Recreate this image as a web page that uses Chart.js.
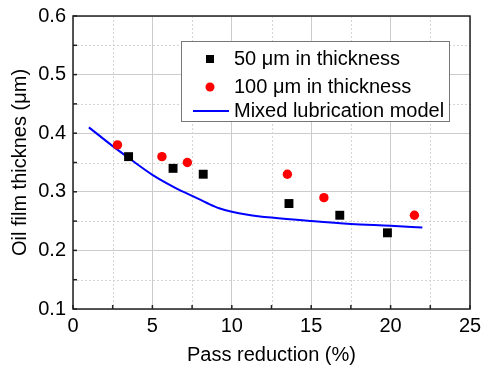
<!DOCTYPE html>
<html>
<head>
<meta charset="utf-8">
<script src="https://cdn.jsdelivr.net/npm/chart.js@4"></script>
<style>
  html, body { margin: 0; padding: 0; background: #fff; }
  #wrap { width: 482px; height: 367px; }
</style>
</head>
<body>
<div id="wrap"><canvas id="chart" width="482" height="367"></canvas></div>
<script>
// measured data
const x50 = [3.5, 6.3, 8.2, 13.6, 16.8, 19.8]
const y50 = [0.36, 0.34, 0.33, 0.28, 0.26, 0.23]
const x100 = [2.8, 5.6, 7.2, 13.5, 15.8, 21.5]
const y100 = [0.38, 0.36, 0.35, 0.33, 0.29, 0.26]
const xModel = [1, 2.5, 3.5, 5, 6.5, 7.5, 8.5, 9.2, 10, 11, 12.5, 15, 17.5, 20, 22]
const yModel = [0.410, 0.378, 0.358, 0.329, 0.306, 0.293, 0.280, 0.272, 0.266, 0.261, 0.256, 0.250, 0.245, 0.242, 0.239]

const seriesNames = ["50 \u03bcm in thickness", "100 \u03bcm in thickness", "Mixed lubrication model"]
const xTicks = [0, 5, 10, 15, 20, 25]
const yTicks = [0.1, 0.2, 0.3, 0.4, 0.5, 0.6]
const xMinor = [2.5, 7.5, 12.5, 17.5, 22.5]
const yMinor = [0.15, 0.25, 0.35, 0.45, 0.55]

const FONT = "'Liberation Sans', Arial, sans-serif"

function pts(xs, ys) { return xs.map((x, i) => ({ x: x, y: ys[i] })) }

// minor dotted grid + inside ticks + frame + legend box
const framePlugin = {
  id: "frame",
  beforeDatasetsDraw(chart) {
    const ctx = chart.ctx, a = chart.chartArea
    const xs = chart.scales.x, ys = chart.scales.y
    ctx.save()
    ctx.strokeStyle = "#d4d4d4"
    ctx.lineWidth = 1
    ctx.setLineDash([2, 2])
    xMinor.forEach(v => {
      const px = Math.round(xs.getPixelForValue(v)) + 0.5
      ctx.beginPath(); ctx.moveTo(px, a.top); ctx.lineTo(px, a.bottom); ctx.stroke()
    })
    yMinor.forEach(v => {
      const py = Math.round(ys.getPixelForValue(v)) + 0.5
      ctx.beginPath(); ctx.moveTo(a.left, py); ctx.lineTo(a.right, py); ctx.stroke()
    })
    ctx.restore()
  },
  afterDatasetsDraw(chart) {
    const ctx = chart.ctx, a = chart.chartArea
    const xs = chart.scales.x, ys = chart.scales.y
    ctx.save()
    ctx.strokeStyle = "#222"
    ctx.lineWidth = 1.5
    xTicks.concat(xMinor).forEach(v => {
      const px = xs.getPixelForValue(v)
      ctx.beginPath(); ctx.moveTo(px, a.bottom); ctx.lineTo(px, a.bottom - 4); ctx.stroke()
    })
    yTicks.concat(yMinor).forEach(v => {
      const py = ys.getPixelForValue(v)
      ctx.beginPath(); ctx.moveTo(a.left, py); ctx.lineTo(a.left + 4, py); ctx.stroke()
    })
    ctx.strokeRect(a.left, a.top, a.right - a.left, a.bottom - a.top)
    ctx.restore()
  },
  afterDraw(chart) {
    const ctx = chart.ctx
    const bx = 181, by = 41, bw = 268, bh = 80
    ctx.save()
    ctx.fillStyle = "#fff"
    ctx.fillRect(bx, by, bw, bh)
    ctx.strokeStyle = "#777"
    ctx.lineWidth = 1
    ctx.strokeRect(bx + 0.5, by + 0.5, bw, bh)
    const rows = [59, 87, 111]
    ctx.fillStyle = "#000"
    ctx.fillRect(206, rows[0] - 4, 8, 8)
    ctx.fillStyle = "#ff0000"
    ctx.beginPath(); ctx.arc(210, rows[1], 4.5, 0, Math.PI * 2); ctx.fill()
    ctx.strokeStyle = "#0000ff"
    ctx.lineWidth = 2
    ctx.beginPath(); ctx.moveTo(193, rows[2]); ctx.lineTo(229, rows[2]); ctx.stroke()
    ctx.fillStyle = "#000"
    ctx.font = "20px " + FONT
    ctx.textBaseline = "middle"
    seriesNames.forEach((n, i) => ctx.fillText(n, 234, rows[i]))
    ctx.restore()
  }
}

new Chart(document.getElementById("chart"), {
  type: "scatter",
  data: {
    datasets: [
      { label: seriesNames[0], data: pts(x50, y50), pointStyle: "rect", pointRadius: 6.3, backgroundColor: "#000", borderColor: "#000", borderWidth: 0 },
      { label: seriesNames[1], data: pts(x100, y100), pointStyle: "circle", pointRadius: 4.7, backgroundColor: "#ff0000", borderColor: "#ff0000", borderWidth: 0 },
      { label: seriesNames[2], data: pts(xModel, yModel), showLine: true, cubicInterpolationMode: "monotone", pointRadius: 0, borderColor: "#0000ff", borderWidth: 2, fill: false }
    ]
  },
  options: {
    responsive: false,
    animation: false,
    layout: { padding: { left: 8, right: 12, top: 16, bottom: 0 } },
    plugins: { legend: { display: false }, tooltip: { enabled: false } },
    scales: {
      x: {
        type: "linear", min: 0, max: 25,
        afterBuildTicks: s => { s.ticks = xTicks.map(v => ({ value: v })) },
        afterFit: s => { s.height = 58; s.paddingLeft = 0; s.paddingRight = 0 },
        grid: { color: "#cccccc", drawTicks: false },
        border: { display: false },
        ticks: { color: "#000", font: { family: FONT, size: 20 }, padding: 5 },
        title: { display: true, text: "Pass reduction (%)", color: "#000", font: { family: FONT, size: 20 }, padding: 0 }
      },
      y: {
        type: "linear", min: 0.1, max: 0.6,
        afterBuildTicks: s => { s.ticks = yTicks.map(v => ({ value: v })) },
        afterFit: s => { s.width = 65; s.paddingTop = 0; s.paddingBottom = 0 },
        grid: { color: "#cccccc", drawTicks: false },
        border: { display: false },
        ticks: { color: "#000", font: { family: FONT, size: 20 }, padding: 7, callback: v => v.toFixed(1) },
        title: { display: true, text: "Oil film thicknes (\u03bcm)", color: "#000", font: { family: FONT, size: 20 }, padding: 0 }
      }
    }
  },
  plugins: [framePlugin]
})
</script>
</body>
</html>
